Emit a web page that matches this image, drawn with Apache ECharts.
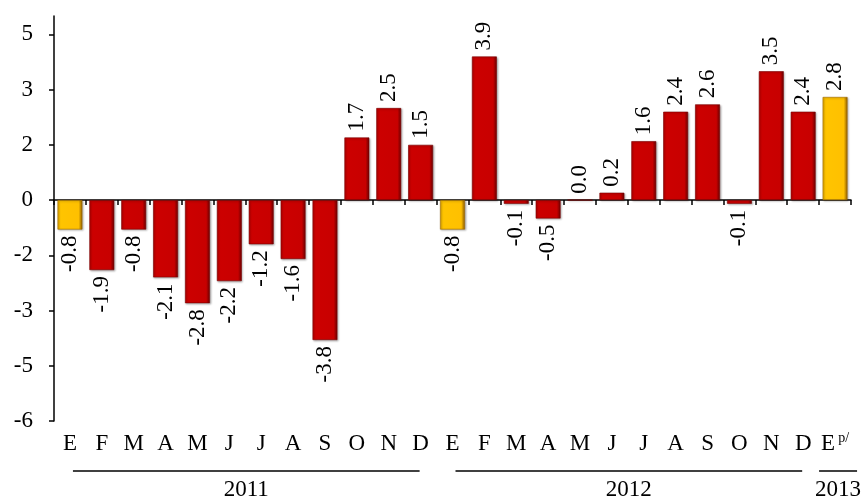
<!DOCTYPE html>
<html>
<head>
<meta charset="utf-8">
<script src="https://cdn.jsdelivr.net/npm/echarts@6/dist/echarts.min.js"></script>
<style>
  html, body { margin: 0; padding: 0; background: #fff; }
  #chart { width: 867px; height: 502px; }
</style>
</head>
<body>
<div id="chart"></div>
<script>
// Month initials (Spanish), 2011-01 .. 2013-01
const categories = ['E','F','M','A','M','J','J','A','S','O','N','D',
                    'E','F','M','A','M','J','J','A','S','O','N','D',
                    'E'];
// Superscript notes attached to category labels (index -> note)
const categoryNotes = { 24: 'p/' };

// Year groups under the month labels
const yearLabels = ['2011', '2012', '2013'];
const yearMonthCounts = [12, 12, 1];

// Monthly values
const values2011 = [-0.8, -1.9, -0.8, -2.1, -2.8, -2.2, -1.2, -1.6, -3.8, 1.7, 2.5, 1.5];
const values2012 = [-0.8, 3.9, -0.1, -0.5, 0.0, 0.2, 1.6, 2.4, 2.6, -0.1, 3.5, 2.4];
const values2013 = [2.8];

// Value-axis tick positions
const yTicks = [-6, -4.5, -3, -1.5, 0, 1.5, 3, 4.5];

const FONT = "'Liberation Serif', 'Times New Roman', serif";
const FS = 23;
const allValues = values2011.concat(values2012, values2013);

// First month of each year is drawn in yellow
const firstMonthIdx = [];
{
  let acc = 0;
  yearMonthCounts.forEach(n => { firstMonthIdx.push(acc); acc += n; });
}

const redFill = new echarts.graphic.LinearGradient(0, 0, 1, 0, [
  { offset: 0, color: '#b80000' },
  { offset: 0.12, color: '#cc0000' },
  { offset: 0.85, color: '#c80000' },
  { offset: 1, color: '#6a0000' }
]);
const yellowFill = new echarts.graphic.LinearGradient(0, 0, 1, 0, [
  { offset: 0, color: '#e0a800' },
  { offset: 0.12, color: '#ffc400' },
  { offset: 0.85, color: '#ffc000' },
  { offset: 1, color: '#8a5a00' }
]);

const fmt1 = v => v.toFixed(1);

const barData = allValues.map((v, i) => {
  const yellow = firstMonthIdx.indexOf(i) >= 0;
  const neg = v < 0;
  return {
    value: v,
    itemStyle: {
      color: yellow ? yellowFill : redFill,
      borderColor: yellow ? '#a06a00' : '#7a0000',
      borderWidth: 0.6
    },
    label: {
      position: neg ? 'bottom' : 'top',
      align: neg ? 'right' : 'left'
    }
  };
});

const roundLabel = v => (v < 0 ? '-' : '') + Math.round(Math.abs(v));

const chart = echarts.init(document.getElementById('chart'), null, { renderer: 'canvas' });

const option = {
  animation: false,
  backgroundColor: '#ffffff',
  textStyle: { fontFamily: FONT },
  grid: { left: 54, right: 16, top: 16, bottom: 81 },
  xAxis: [
    {
      type: 'category',
      data: categories,
      position: 'bottom',
      axisLine: { show: false, onZero: false },
      axisTick: { show: false },
      axisLabel: {
        interval: 0,
        margin: 10,
        color: '#000',
        fontFamily: FONT,
        fontSize: FS,
        formatter: (val, idx) => categoryNotes[idx]
          ? '{m|' + val + '}{p|' + categoryNotes[idx] + '}'
          : '{m|' + val + '}',
        rich: {
          m: { fontFamily: FONT, fontSize: FS, color: '#000', lineHeight: 26 },
          p: { fontFamily: FONT, fontSize: 14, color: '#000', verticalAlign: 'top', lineHeight: 26, padding: [0, 0, 9, 3] }
        }
      },
      splitLine: { show: false }
    },
    {
      type: 'category',
      data: categories,
      position: 'bottom',
      axisLine: { show: true, onZero: true, lineStyle: { color: '#000', width: 1.5 } },
      axisTick: { show: true, interval: 0, length: 5, inside: false, lineStyle: { color: '#000', width: 1.5 } },
      axisLabel: { show: false },
      splitLine: { show: false }
    }
  ],
  yAxis: {
    type: 'value',
    min: -6,
    max: 5,
    interval: 1.5,
    axisLine: { show: true, lineStyle: { color: '#000', width: 1.5 } },
    axisTick: { show: true, length: 5, customValues: yTicks, lineStyle: { color: '#000', width: 1.5 } },
    axisLabel: {
      customValues: yTicks,
      margin: 21,
      color: '#000',
      fontFamily: FONT,
      fontSize: FS,
      formatter: roundLabel
    },
    splitLine: { show: false }
  },
  series: [
    {
      type: 'bar',
      xAxisIndex: 0,
      data: barData,
      barWidth: '78%',
      itemStyle: {
        shadowColor: 'rgba(0,0,0,0.3)',
        shadowBlur: 2,
        shadowOffsetX: 1,
        shadowOffsetY: 1
      },
      label: {
        show: true,
        rotate: 90,
        verticalAlign: 'middle',
        distance: 6,
        color: '#000',
        fontFamily: FONT,
        fontSize: FS,
        formatter: p => fmt1(p.value)
      }
    }
  ]
};

chart.setOption(option);

// Year brackets below the month labels, positioned from the category axis
const graphics = [];
const lineY = 471;
const textY = 490;
let start = 0;
yearMonthCounts.forEach((n, g) => {
  const end = start + n - 1;
  const x0 = chart.convertToPixel({ xAxisIndex: 0 }, start);
  const x1 = chart.convertToPixel({ xAxisIndex: 0 }, end);
  let lx0, lx1;
  if (n > 1) { lx0 = x0 + 3; lx1 = x1 - 1; }
  else { lx0 = x0 - 16; lx1 = x1 + 22; }
  graphics.push({
    type: 'line',
    shape: { x1: lx0, y1: lineY, x2: lx1, y2: lineY },
    style: { stroke: '#000', lineWidth: 1.5 }
  });
  graphics.push({
    type: 'text',
    x: (lx0 + lx1) / 2,
    y: textY,
    style: {
      text: yearLabels[g],
      fill: '#000',
      font: FS + 'px ' + FONT,
      align: 'center',
      verticalAlign: 'middle'
    }
  });
  start += n;
});
chart.setOption({ graphic: graphics });
</script>
</body>
</html>
